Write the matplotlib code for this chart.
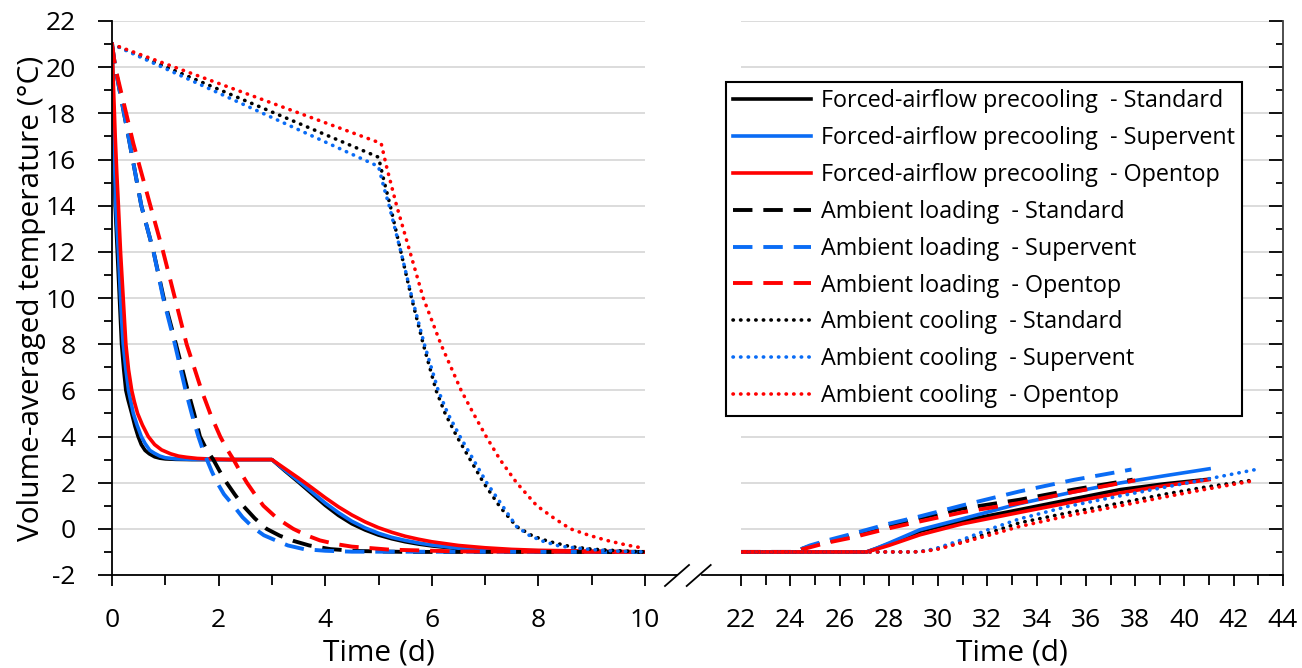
import matplotlib
matplotlib.use("Agg")
import matplotlib.pyplot as plt
from matplotlib.lines import Line2D
from matplotlib.ticker import MultipleLocator

plt.rcParams['font.family'] = ['Open Sans', 'DejaVu Sans']
plt.rcParams['axes.unicode_minus'] = False

# ---- data (time in days, temperature in degC) ----
# left panel, 0-10 d
fa_std_t = [0, 0.02, 0.04, 0.06, 0.08, 0.1, 0.12, 0.14, 0.16, 0.18, 0.22, 0.26, 0.3, 0.37, 0.43, 0.49, 0.55,
            0.62, 0.7, 0.8, 0.9, 1.0, 1.2, 1.5, 2.0,
            3.0, 3.25, 3.5, 3.75, 4.0, 4.25, 4.5, 4.75, 5.0, 5.25, 5.5, 5.75, 6.0, 6.5, 7.0, 7.5, 8.0, 10.0]
fa_std_y = [21, 18.2, 16.0, 14.0, 13.0, 12, 11.0, 10, 9.0, 8, 6.9, 6, 5.6, 5, 4.45, 4, 3.65,
            3.4, 3.25, 3.12, 3.06, 3.03, 3.01, 3.0, 3.0,
            3.0, 2.5, 2.02, 1.52, 1.02, 0.58, 0.22, -0.05, -0.27, -0.43, -0.56, -0.66, -0.74, -0.86, -0.93,
            -0.97, -0.99, -1.0]
fa_sv_t = [0, 0.02, 0.04, 0.07, 0.1, 0.12, 0.14, 0.16, 0.18, 0.21, 0.26, 0.31, 0.35, 0.4, 0.47, 0.55, 0.62,
           0.71, 0.8, 0.9, 1.0, 1.2, 1.5, 2.0,
           3.0, 3.25, 3.5, 3.75, 4.0, 4.25, 4.5, 4.75, 5.0, 5.25, 5.5, 5.75, 6.0, 6.5, 7.0, 7.5, 8.0, 10.0]
fa_sv_y = [21, 18.6, 16.6, 14, 12.8, 12, 11.0, 10, 9.1, 8, 6.9, 6, 5.55, 5, 4.5, 4, 3.7,
           3.4, 3.27, 3.15, 3.08, 3.03, 3.01, 3.0,
           3.0, 2.53, 2.07, 1.6, 1.12, 0.7, 0.33, 0.04, -0.19, -0.37, -0.5, -0.61, -0.7, -0.84, -0.92, -0.96,
           -0.98, -1.0]
fa_op_t = [0, 0.03, 0.06, 0.09, 0.12, 0.16, 0.21, 0.26, 0.31, 0.37, 0.42, 0.48, 0.57, 0.68, 0.8, 0.93,
           1.1, 1.25, 1.4, 1.6, 1.8, 2.2,
           3.0, 3.25, 3.5, 3.75, 4.0, 4.25, 4.5, 4.75, 5.0, 5.25, 5.5, 5.75, 6.0, 6.5, 7.0, 7.5, 8.0, 10.0]
fa_op_y = [21, 19.0, 17.0, 15.4, 14, 12, 10, 8, 6.9, 6, 5.5, 5, 4.5, 4, 3.65, 3.42,
           3.25, 3.15, 3.1, 3.05, 3.03, 3.0,
           3.0, 2.6, 2.2, 1.78, 1.35, 0.95, 0.6, 0.3, 0.05, -0.15, -0.32, -0.45, -0.56, -0.72, -0.82, -0.89,
           -0.93, -1.0]

al_std_t = [0, 0.06, 0.3, 0.55, 0.78, 0.97, 1.2, 1.42, 1.54, 1.65, 1.77, 1.9, 2.02, 2.15, 2.3, 2.46, 2.68,
            2.9, 3.15, 3.4, 3.7, 4.1, 4.6, 5.5, 10.0]
al_std_y = [21, 20, 17.1, 14, 12, 10, 8, 6, 5, 4, 3.45, 3, 2.5, 2.0, 1.5, 1.0, 0.45,
            0.0, -0.3, -0.52, -0.72, -0.88, -0.96, -1.0, -1.0]
al_sv_t = [0, 0.06, 0.3, 0.55, 0.78, 0.96, 1.18, 1.38, 1.5, 1.62, 1.7, 1.78, 1.87, 1.96, 2.1, 2.28, 2.45,
           2.65, 2.85, 3.09, 3.3, 3.6, 4.0, 4.5, 10.0]
al_sv_y = [21, 20, 17.1, 14, 12, 10, 8, 6, 4.95, 4.0, 3.45, 3.0, 2.5, 2.05, 1.5, 1.0, 0.5,
           0.05, -0.28, -0.52, -0.72, -0.88, -0.95, -0.99, -1.0]
al_op_t = [0, 0.06, 0.4, 0.72, 0.96, 1.18, 1.4, 1.68, 1.85, 2.03, 2.15, 2.28, 2.4, 2.53, 2.68, 2.84, 3.1,
           3.4, 3.65, 3.9, 4.2, 4.5, 5.2, 6.5, 10.0]
al_op_y = [21, 20, 16.7, 14, 12, 10, 8, 6, 4.95, 4, 3.48, 3, 2.5, 2.0, 1.5, 1.0, 0.45,
           0.0, -0.28, -0.5, -0.66, -0.77, -0.9, -0.98, -1.0]

ac_std_t = [0, 5.0, 5.1, 5.22, 5.42, 5.62, 5.84, 6.08, 6.25, 6.47, 6.72, 6.97, 7.28, 7.59, 7.9, 8.2, 8.6,
            9.0, 9.5, 10.0]
ac_std_y = [21, 16.1, 15.1, 14, 12, 10, 8, 6, 5, 4, 3, 2, 0.95, 0.1, -0.32, -0.55, -0.77,
            -0.88, -0.95, -1.0]
ac_sv_t = [0, 5.0, 5.1, 5.2, 5.42, 5.63, 5.86, 6.12, 6.3, 6.53, 6.78, 7.03, 7.34, 7.59, 7.84, 8.1, 8.4,
           9.0, 9.5, 10.0]
ac_sv_y = [21, 15.7, 14.8, 14, 12, 10, 8, 6, 5, 4, 3, 2, 0.95, 0.1, -0.3, -0.55, -0.75,
           -0.9, -0.97, -1.0]
ac_op_t = [0, 5.05, 5.15, 5.34, 5.59, 5.84, 6.17, 6.55, 6.78, 7.02, 7.28, 7.59, 7.97, 8.3, 8.6, 8.95,
           9.28, 9.65, 10.0]
ac_op_y = [21, 16.7, 15.7, 14, 12, 10, 8, 6, 5, 4, 3, 2, 1, 0.45, 0.0, -0.28,
           -0.5, -0.7, -0.85]

# right panel, 22-44 d
al_std_t2 = [22, 24.2, 24.5, 24.8, 25.5, 26.5, 28, 29.26, 31, 33.3, 35.5, 37.9]
al_std_y2 = [-1, -1, -0.86, -0.75, -0.55, -0.3, 0.12, 0.47, 0.88, 1.26, 1.7, 2.13]
al_sv_t2 = [22, 24.2, 24.5, 24.8, 25.5, 26.5, 28, 29.26, 31, 33.3, 35.5, 37.85]
al_sv_y2 = [-1, -1, -0.85, -0.72, -0.5, -0.22, 0.22, 0.54, 1.02, 1.62, 2.12, 2.57]
al_op_t2 = [22, 24.2, 24.5, 24.8, 25.5, 26.5, 28, 29.26, 31, 33.3, 35.5, 38.0]
al_op_y2 = [-1, -1, -0.88, -0.8, -0.6, -0.38, 0.02, 0.32, 0.72, 1.12, 1.6, 2.1]

fa_t2 = [22, 27.1, 27.5, 28, 29.26, 31, 33.3, 35.5, 37.4, 39.2, 41]
fa_std_y2 = [-1, -1, -0.85, -0.65, -0.11, 0.35, 0.83, 1.3, 1.7, 1.95, 2.15]
fa_sv_y2 = [-1, -1, -0.84, -0.62, -0.04, 0.44, 1.09, 1.6, 1.99, 2.3, 2.6]
fa_op_y2 = [-1, -1, -0.88, -0.72, -0.26, 0.22, 0.71, 1.17, 1.56, 1.87, 2.13]

ac_t2 = [22, 29.0, 29.5, 30.0, 30.9, 32.0, 33.3, 35.3, 37.4, 39.2, 40.8, 42.9]
ac_std_y2 = [-1, -1, -0.96, -0.85, -0.58, -0.2, 0.26, 0.7, 1.12, 1.5, 1.8, 2.13]
ac_sv_y2 = [-1, -1, -0.95, -0.82, -0.5, -0.05, 0.43, 0.98, 1.43, 1.8, 2.13, 2.57]
ac_op_y2 = [-1, -1, -0.97, -0.88, -0.62, -0.3, 0.1, 0.57, 1.0, 1.38, 1.7, 2.1]

labels = ["Forced-airflow precooling  - Standard", "Forced-airflow precooling  - Supervent",
          "Forced-airflow precooling  - Opentop", "Ambient loading  - Standard",
          "Ambient loading  - Supervent", "Ambient loading  - Opentop",
          "Ambient cooling  - Standard", "Ambient cooling  - Supervent", "Ambient cooling  - Opentop"]

black = "#000000"
blue = "#0A6CF5"
red = "#FF0000"
solid = dict(lw=2.6, ls="-")
dashed = dict(lw=2.8, ls=(0, (5.0, 2.8)))
dotted = dict(lw=2.6, ls=(0, (0.1, 2.0)), dash_capstyle="round")

fs_tick = 19
fs_lab = 21.5
fs_leg = 16.8

fig = plt.figure(figsize=(13.02, 6.68), dpi=100)
ax1 = fig.add_axes([112/1302, 93/668, 533/1302, 554/668])
ax2 = fig.add_axes([741/1302, 93/668, 542/1302, 554/668])

# left panel
ax1.plot(fa_std_t, fa_std_y, color=black, **solid)
ax1.plot(fa_sv_t, fa_sv_y, color=blue, **solid)
ax1.plot(fa_op_t, fa_op_y, color=red, **solid)
ax1.plot(al_std_t, al_std_y, color=black, **dashed)
ax1.plot(al_sv_t, al_sv_y, color=blue, **dashed)
ax1.plot(al_op_t, al_op_y, color=red, **dashed)
ax1.plot(ac_std_t, ac_std_y, color=black, **dotted)
ax1.plot(ac_sv_t, ac_sv_y, color=blue, **dotted)
ax1.plot(ac_op_t, ac_op_y, color=red, **dotted)

# right panel
h = []
h += ax2.plot(fa_t2, fa_std_y2, color=black, **solid)
h += ax2.plot(fa_t2, fa_sv_y2, color=blue, **solid)
h += ax2.plot(fa_t2, fa_op_y2, color=red, **solid)
h += ax2.plot(al_std_t2, al_std_y2, color=black, **dashed)
h += ax2.plot(al_sv_t2, al_sv_y2, color=blue, **dashed)
h += ax2.plot(al_op_t2, al_op_y2, color=red, **dashed)
h += ax2.plot(ac_t2, ac_std_y2, color=black, **dotted)
h += ax2.plot(ac_t2, ac_sv_y2, color=blue, **dotted)
h += ax2.plot(ac_t2, ac_op_y2, color=red, **dotted)

for ax in (ax1, ax2):
    ax.set_ylim(-2, 22)
    ax.yaxis.set_major_locator(MultipleLocator(2))
    ax.yaxis.set_minor_locator(MultipleLocator(1))
    ax.xaxis.set_major_locator(MultipleLocator(2))
    ax.xaxis.set_minor_locator(MultipleLocator(1))
    ax.grid(axis="y", which="major", color="#d9d9d9", lw=1.3, zorder=0)
    ax.set_axisbelow(True)
    ax.spines["top"].set_visible(False)
    ax.tick_params(axis="x", which="major", length=8, width=1.3, direction="out", labelsize=fs_tick, pad=16)
    ax.tick_params(axis="x", which="minor", length=7, width=1.3, direction="out")
    ax.spines["bottom"].set_linewidth(1.3)
    ax.set_xlabel("Time (d)", fontsize=fs_lab, labelpad=4)

ax1.set_xlim(0, 10)
ax1.spines["right"].set_visible(False)
ax1.spines["left"].set_linewidth(1.3)
ax1.tick_params(axis="y", which="major", length=10, width=1.3, labelsize=fs_tick, pad=16)
ax1.tick_params(axis="y", which="minor", length=6, width=1.3)
ax1.set_ylabel("Volume-averaged temperature (°C)", fontsize=fs_lab, labelpad=0)

ax2.set_xlim(22, 44)
ax2.spines["left"].set_visible(False)
ax2.spines["right"].set_linewidth(1.3)
ax2.spines["right"].set_color("#404040")
ax2.yaxis.tick_right()
ax2.tick_params(axis="y", which="both", direction="in", labelright=False, width=1.3)
ax2.tick_params(axis="y", which="major", length=10)
ax2.tick_params(axis="y", which="minor", length=5)

leg = ax2.legend(h, labels, loc="upper left", bbox_to_anchor=(-0.028, 0.89), fontsize=fs_leg,
                 frameon=True, fancybox=False, framealpha=1, edgecolor="black",
                 borderaxespad=0, handlelength=3.35, handletextpad=0.39, labelspacing=0.55,
                 borderpad=0.32)
leg.get_frame().set_linewidth(1.5)

# axis break marks between the two panels
p1 = ax1.get_position()
p2 = ax2.get_position()
yb = p1.y0
W, H = 1302.0, 668.0
lk = dict(color="black", lw=1.3, transform=fig.transFigure, clip_on=False)
fig.add_artist(Line2D([p1.x1, 677/W], [yb, yb], **lk))
fig.add_artist(Line2D([701.7/W, p2.x0], [yb, yb], **lk))
fig.add_artist(Line2D([665/W, 689/W], [yb - 11/H, yb + 10/H], **lk))
fig.add_artist(Line2D([686.7/W, 710.7/W], [yb - 11/H, yb + 10/H], **lk))

fig.savefig("out.png", dpi=100)
